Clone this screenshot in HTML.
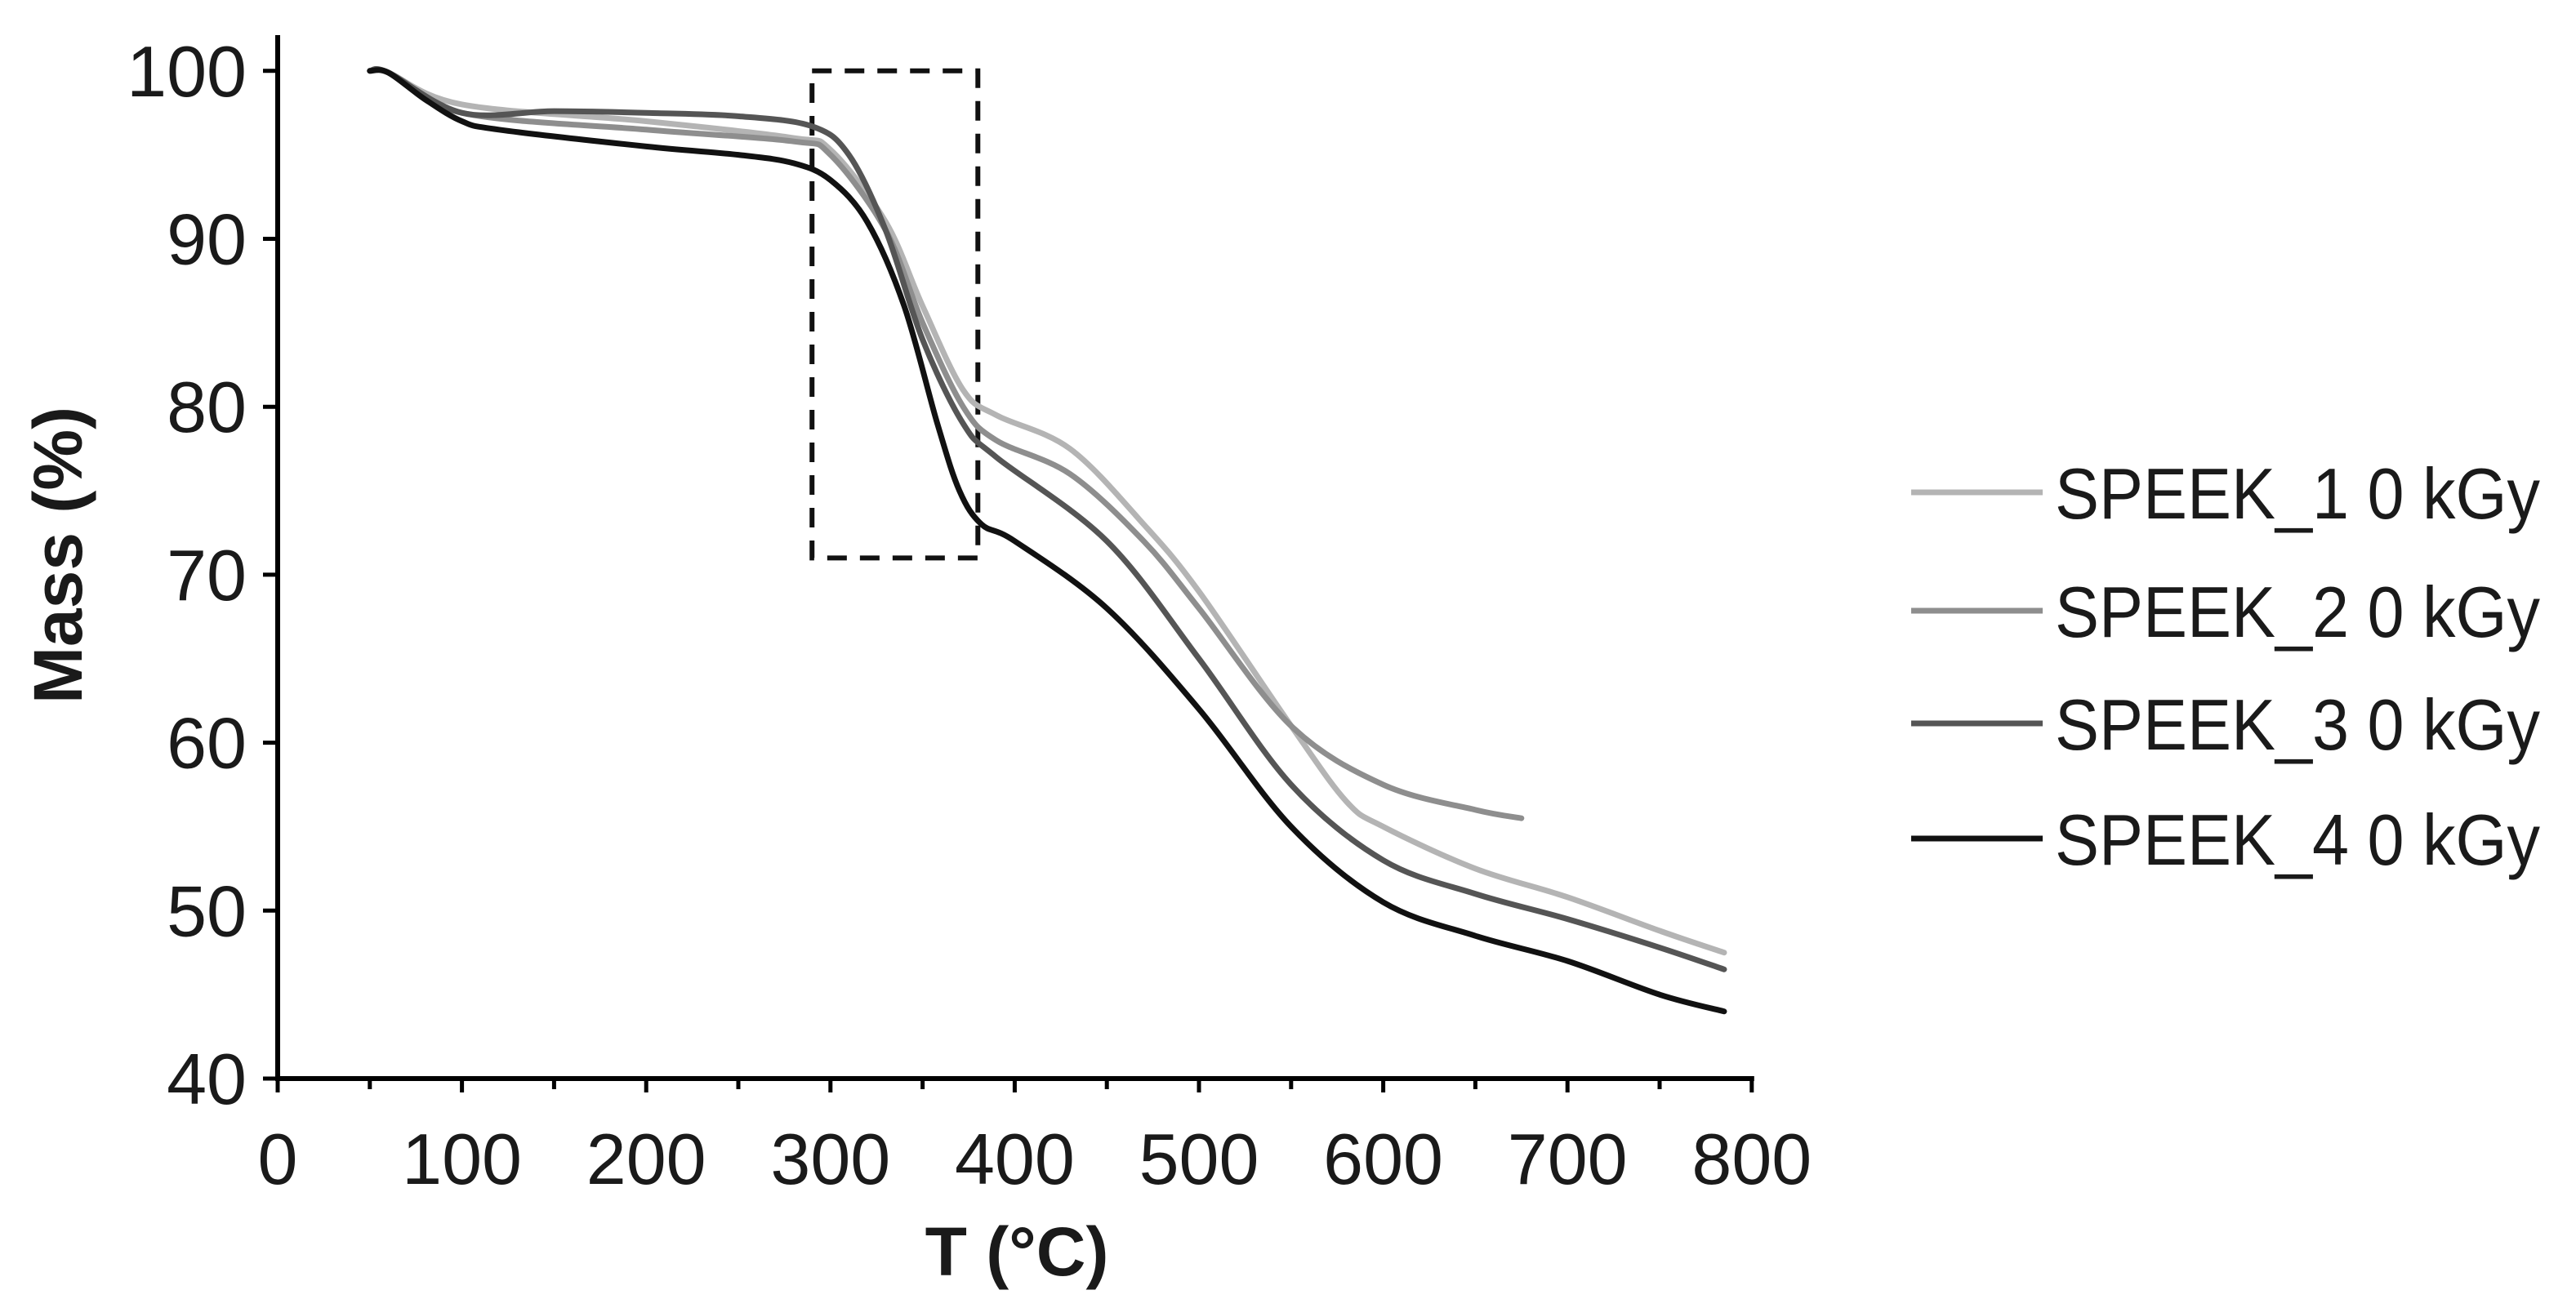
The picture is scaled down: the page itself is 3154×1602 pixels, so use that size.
<!DOCTYPE html>
<html><head><meta charset="utf-8"><style>
html,body{margin:0;padding:0;background:#fff;}
svg{display:block;font-family:"Liberation Sans",Arial,sans-serif;}
</style></head><body>
<svg id="chart" width="3154" height="1602" viewBox="0 0 3154 1602">
<g id="axes"></g><g id="series"></g><g id="legend"></g>
</svg>
<script>
const xTicks=[0,100,200,300,400,500,600,700,800];
const yTicks=[40,50,60,70,80,90,100];
const seriesNames=["SPEEK_1 0 kGy","SPEEK_2 0 kGy","SPEEK_3 0 kGy","SPEEK_4 0 kGy"];
const s1T=[50,60,100,200,280,300,330,350,372,390,430,470,500,550,580,600,650,700,750,785];
const s1M=[100,99.9,98,97,96,95.3,91,86,81,79.5,77.5,73,69,61,56.5,55,52.5,50.8,48.8,47.5];
const s2T=[50,60,100,200,280,300,330,350,372,390,430,470,500,550,600,650,675];
const s2M=[100,99.9,97.5,96.5,95.8,95,90.5,85,80,78,76,72,68,61,57.5,56,55.5];
const s3T=[50,60,100,150,200,250,290,310,330,350,372,390,450,500,550,600,650,700,750,785];
const s3M=[100,99.9,97.5,97.6,97.5,97.3,96.7,95,90.5,84,79,77,72,65,57.5,53,51,49.5,47.8,46.5];
const s4T=[50,60,80,100,120,200,250,280,300,320,340,358,370,382,400,450,500,550,600,650,700,750,785];
const s4M=[100,99.9,98.3,97,96.5,95.5,95,94.5,93.5,91,86,79,75,73,72,68,62,55,50.5,48.5,47,45,44];
const boxT=[290,380];const boxM=[71,100];
const colors=["#b4b4b4","#8e8e8e","#555555","#111111"];
const NS="http://www.w3.org/2000/svg";
const X=t=>340+(t/100)*225.6;
const Y=m=>1321-(m-40)*20.57;
function mk(tag,attrs,parent){const e=document.createElementNS(NS,tag);for(const k in attrs)e.setAttribute(k,attrs[k]);parent.appendChild(e);return e;}
const axes=document.getElementById('axes');
let a=mk('line',{x1:340,y1:43,x2:340,y2:1321,stroke:'#000','stroke-width':6},axes);


a=mk('line',{x1:337,y1:1321,x2:X(800)+3,y2:1321,stroke:'#000','stroke-width':6},axes);


xTicks.forEach(t=>{
 let l=mk('line',{x1:X(t),y1:1321,x2:X(t),y2:1338,stroke:'#000','stroke-width':5},axes);
 
 
 if(t<800){let m=mk('line',{x1:X(t+50),y1:1321,x2:X(t+50),y2:1334,stroke:'#000','stroke-width':5},axes);
 
 }
 let tx=mk('text',{x:X(t),y:1450,'text-anchor':'middle','font-size':88,fill:'#1a1a1a'},axes);
 tx.textContent=t;
 
 
});
yTicks.forEach(m=>{
 let l=mk('line',{x1:322,y1:Y(m),x2:340,y2:Y(m),stroke:'#000','stroke-width':5},axes);
 
 
 let tx=mk('text',{x:302,y:Y(m)+31,'text-anchor':'end','font-size':88,fill:'#1a1a1a'},axes);
 tx.textContent=m;
 
 
});
let xt=mk('text',{x:1245,y:1562,'text-anchor':'middle','font-size':84,'font-weight':'bold',fill:'#1a1a1a'},axes);
xt.textContent='T (°C)';


let yt=mk('text',{x:0,y:0,'text-anchor':'middle','font-size':84,'font-weight':'bold',fill:'#1a1a1a',transform:'translate(100,680) rotate(-90)'},axes);
yt.textContent='Mass (%)';


let box=mk('rect',{x:X(boxT[0]),y:Y(boxM[1]),width:X(boxT[1])-X(boxT[0]),height:Y(boxM[0])-Y(boxM[1]),fill:'none',stroke:'#111','stroke-width':6,'stroke-dasharray':'24,16'},axes);


function smooth(ts,ms){const p=ts.map((t,i)=>[X(t),Y(ms[i])]);let d='M'+p[0][0]+','+p[0][1];
 for(let i=0;i<p.length-1;i++){const p0=p[i-1]||p[i],p1=p[i],p2=p[i+1],p3=p[i+2]||p2;
 const c1=[p1[0]+(p2[0]-p0[0])/6,p1[1]+(p2[1]-p0[1])/6],c2=[p2[0]-(p3[0]-p1[0])/6,p2[1]-(p3[1]-p1[1])/6];
 d+=' C'+c1[0]+','+c1[1]+' '+c2[0]+','+c2[1]+' '+p2[0]+','+p2[1];}return d;}
const sg=document.getElementById('series');
const data=[[s1T,s1M],[s2T,s2M],[s3T,s3M],[s4T,s4M]];
data.forEach((s,i)=>{
 let p=mk('path',{d:smooth(s[0],s[1]),fill:'none',stroke:colors[i],'stroke-width':7,'stroke-linejoin':'round','stroke-linecap':'round'},sg);
 
 
});
const lg=document.getElementById('legend');
const rows=[603,748,886,1027];
seriesNames.forEach((n,i)=>{
 let l=mk('line',{x1:2340,y1:rows[i],x2:2501,y2:rows[i],stroke:colors[i],'stroke-width':7},lg);
 
 
 let t=mk('text',{x:2516,y:rows[i]+32,'font-size':88,fill:'#1a1a1a',textLength:594,lengthAdjust:'spacingAndGlyphs'},lg);
 t.textContent=n;
 
 
});
</script>
</body></html>
